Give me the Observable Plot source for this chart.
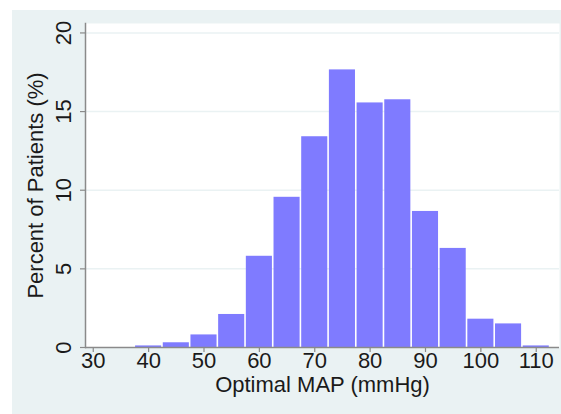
<!DOCTYPE html>
<html>
<head>
<meta charset="utf-8">
<script src="https://cdn.jsdelivr.net/npm/d3@7"></script>
<script src="https://cdn.jsdelivr.net/npm/@observablehq/plot@0.6"></script>
<style>
  html, body { margin: 0; padding: 0; background: #ffffff; }
  #wrap { position: relative; width: 561px; height: 414px; overflow: hidden; }
  #bg { position: absolute; left: 12px; top: 10px; width: 549px; height: 404px; background: #eaf2f3; }
  #chart { position: absolute; left: 0; top: 0; }
  svg { background: transparent !important; }
</style>
</head>
<body>
<div id="wrap"><div id="bg"></div><div id="chart"></div></div>
<script>
// Bin centers (mmHg), bin width 5
const binCenters = [40, 45, 50, 55, 60, 65, 70, 75, 80, 85, 90, 95, 100, 105, 110];
// Percent of patients in each bin
const percents = [0.1, 0.3, 0.8, 2.1, 5.8, 9.55, 13.4, 17.65, 15.55, 15.75, 8.65, 6.3, 1.8, 1.5, 0.1];
const xTicks = [30, 40, 50, 60, 70, 80, 90, 100, 110];
const yTicks = [0, 5, 10, 15, 20];
const binWidth = 5;

const bins = binCenters.map((c, i) => ({ x1: c - binWidth / 2, x2: c + binWidth / 2, y: percents[i] }));
const font = "'Liberation Sans', Arial, sans-serif";
const ink = "#1a1a1a";
const axisGray = "#8a8a8a";

const chart = Plot.plot({
  width: 561,
  height: 414,
  marginLeft: 85,
  marginRight: 2,
  marginTop: 23,
  marginBottom: 67,
  style: { fontFamily: font, background: "transparent" },
  x: { domain: [28.6, 114.2], axis: null },
  y: { domain: [0, 20.6], axis: null },
  marks: [
    Plot.frame({ fill: "white", stroke: null }),
    Plot.ruleY(yTicks.filter(d => d > 0), { stroke: "#eaf2f3", strokeWidth: 1.5 }),
    Plot.rectY(bins, { x1: "x1", x2: "x2", y: "y", fill: "#7f7bff", insetLeft: 0.8, insetRight: 0.8 }),
    // axis lines
    Plot.ruleY([0], { stroke: axisGray, strokeWidth: 1.5 }),
    Plot.axisY(yTicks, { tickSize: 5, stroke: axisGray, strokeWidth: 1.2, tickFormat: () => "", label: null }),
    Plot.axisX(xTicks, { tickSize: 5, stroke: axisGray, strokeWidth: 1.2, tickFormat: () => "", label: null }),
    Plot.frame({ anchor: "left", stroke: axisGray, strokeWidth: 1.5 }),
    // tick labels
    Plot.text(yTicks, { y: d => d, text: d => String(d), frameAnchor: "left", textAnchor: "middle", dx: -22, rotate: -90, fontSize: 22, fill: ink }),
    Plot.text(xTicks, { x: d => d, text: d => String(d), frameAnchor: "bottom", textAnchor: "middle", dy: 20, fontSize: 22, fill: ink }),
    // axis titles
    Plot.text(["Percent of Patients (%)"], { text: d => d, frameAnchor: "left", textAnchor: "middle", dx: -50, rotate: -90, fontSize: 22, fill: ink }),
    Plot.text(["Optimal MAP (mmHg)"], { text: d => d, frameAnchor: "bottom", textAnchor: "middle", dy: 44, fontSize: 22, fill: ink })
  ]
});
document.getElementById("chart").appendChild(chart);
</script>
</body>
</html>
